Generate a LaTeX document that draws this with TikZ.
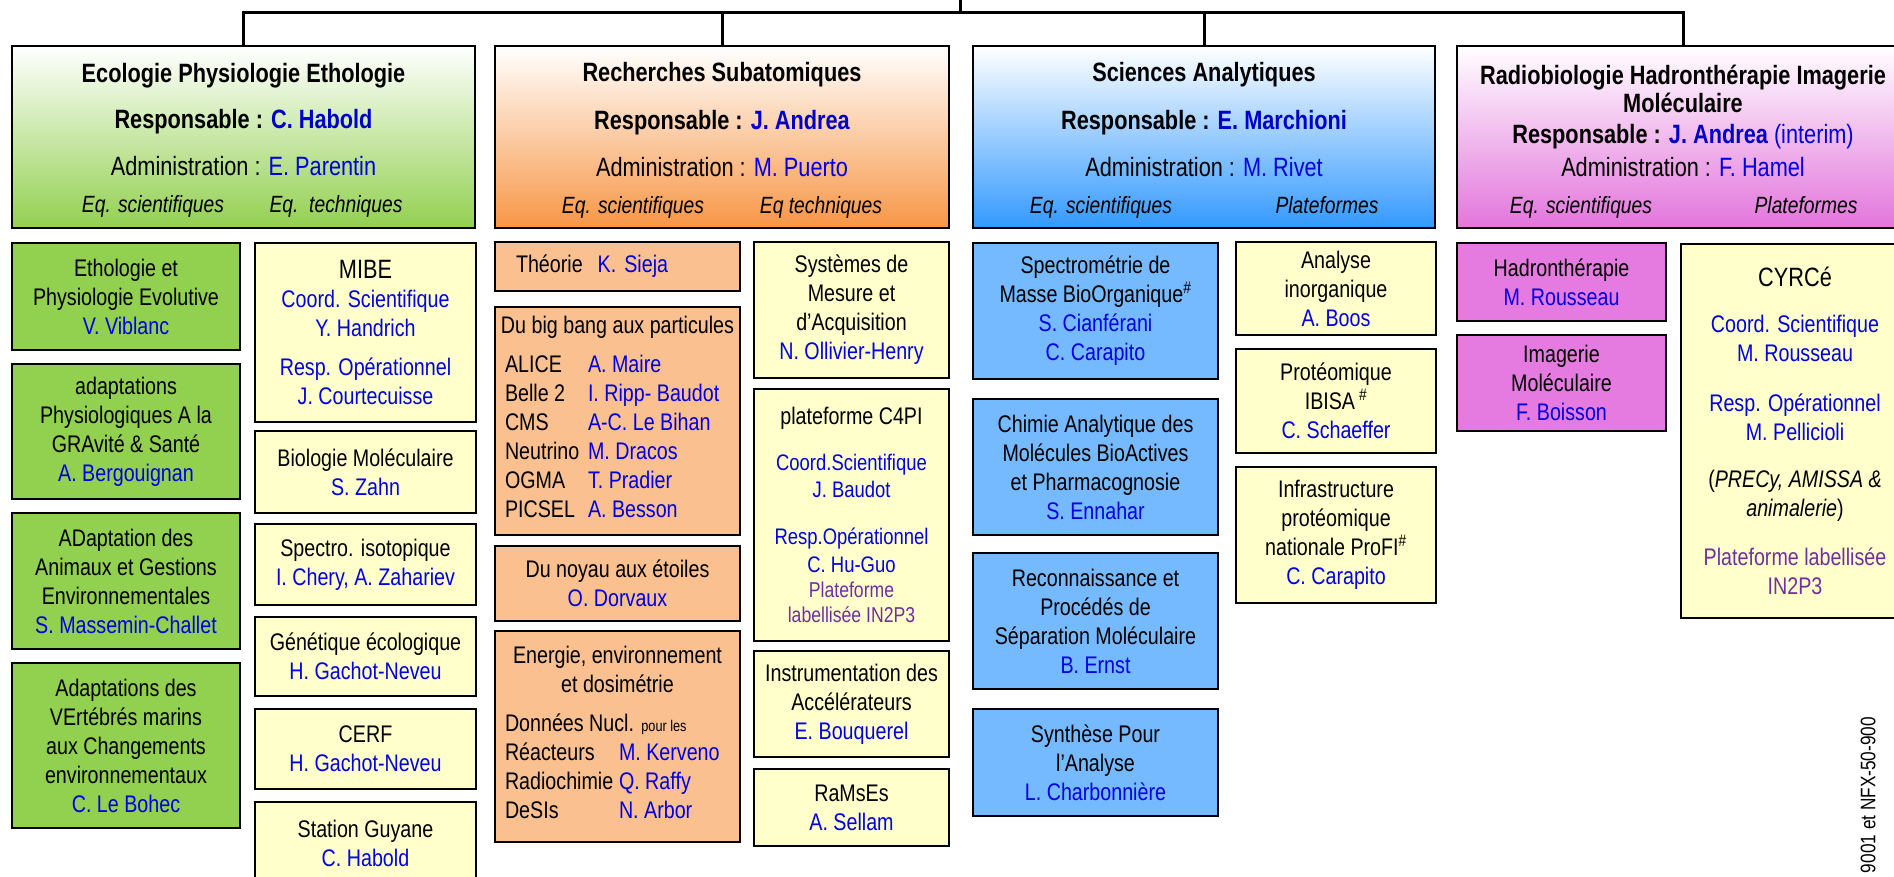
\documentclass[tikz,border=0pt]{standalone}
\usepackage{fontspec}
\setmainfont[FakeStretch=0.82]{Liberation Sans}
\usepackage{tikz}
\usetikzlibrary{positioning}

\definecolor{nm}{RGB}{0,0,225}
\definecolor{hnm}{RGB}{0,0,200}
\definecolor{lbl}{RGB}{112,48,160}
\definecolor{vert}{RGB}{146,208,80}
\definecolor{orhd}{RGB}{247,150,70}
\definecolor{orsub}{RGB}{250,192,143}
\definecolor{blhd}{RGB}{51,153,255}
\definecolor{blsub}{RGB}{117,185,255}
\definecolor{rshd}{RGB}{227,117,220}
\definecolor{rssub}{RGB}{229,123,224}
\definecolor{jaune}{RGB}{255,255,204}

\newcommand{\nm}[1]{\textcolor{nm}{#1}}

\begin{document}
\begin{tikzpicture}[x=1pt,y=-1pt,
hdr/.style={draw,line width=2.5pt,inner sep=0pt,outer sep=0pt,minimum height=182pt,top color=white},
htxt/.style={anchor=base,font=\fontsize{26.5}{30}\selectfont},
eq/.style={anchor=base,font=\fontsize{23.5}{28}\selectfont\itshape},
sub/.style={draw,line width=2.5pt,inner sep=0pt,outer sep=0pt,align=center,font=\fontsize{24}{29}\selectfont},
gsub/.style={sub,fill=vert,minimum width=228pt},
ysub/.style={sub,fill=jaune},
osub/.style={sub,fill=orsub,minimum width=245pt},
bsub/.style={sub,fill=blsub,minimum width=245pt},
psub/.style={sub,fill=rssub,minimum width=209pt},
conn/.style={line width=3pt}]
\clip (0,0) rectangle (1894,876);

% poles
\node[hdr,bottom color=vert,minimum width=463pt,anchor=north] (hEco) at (243.5,46) {};
\node[hdr,bottom color=orhd,minimum width=454pt,anchor=north] (hSub) at (722,46) {};
\node[hdr,bottom color=blhd,minimum width=462pt,anchor=north] (hAna) at (1204,46) {};
\node[hdr,bottom color=rshd,minimum width=452pt,anchor=north] (hRad) at (1683,46) {};

\coordinate (bus) at (960,12);
\coordinate (stem) at (960,-2);
\draw[conn] (stem) -- (bus);
\draw[conn] (hEco.north) |- (bus) -| (hRad.north);
\draw[conn] (hSub.north) -- (hSub.north |- bus);
\draw[conn] (hAna.north) -- (hAna.north |- bus);

\node[htxt] (hEcoT) at (243.5,82) {\bfseries Ecologie Physiologie Ethologie};
\node[htxt] (hEcoR) at (243.5,128) {\bfseries Responsable : \textcolor{hnm}{C. Habold}};
\node[htxt] (hEcoA) at (243.5,175) {Administration : \nm{E. Parentin}};
\node[eq] (hEcoS) at (153,212) {Eq. scientifiques};
\node[eq] (hEcoQ) at (336,212) {Eq.\ \ techniques};

\node[htxt] (hSubT) at (722,81) {\bfseries Recherches Subatomiques};
\node[htxt] (hSubR) at (722,129) {\bfseries Responsable : \textcolor{hnm}{J. Andrea}};
\node[htxt] (hSubA) at (722,176) {Administration : \nm{M. Puerto}};
\node[eq] (hSubS) at (633,213) {Eq. scientifiques};
\node[eq] (hSubQ) at (821,213) {Eq techniques};

\node[htxt] (hAnaT) at (1204,81) {\bfseries Sciences Analytiques};
\node[htxt] (hAnaR) at (1204,129) {\bfseries Responsable : \textcolor{hnm}{E. Marchioni}};
\node[htxt] (hAnaA) at (1204,176) {Administration : \nm{M. Rivet}};
\node[eq] (hAnaS) at (1101,213) {Eq. scientifiques};
\node[eq] (hAnaP) at (1327,213) {Plateformes};

\node[htxt] (hRadT) at (1683,84) {\bfseries Radiobiologie Hadronthérapie Imagerie};
\node[htxt] (hRadM) at (1683,112) {\bfseries Moléculaire};
\node[htxt] (hRadR) at (1683,143) {{\bfseries Responsable : \textcolor{hnm}{J. Andrea}} \nm{(interim)}};
\node[htxt] (hRadA) at (1683,176) {Administration : \nm{F. Hamel}};
\node[eq] (hRadS) at (1581,213) {Eq. scientifiques};
\node[eq] (hRadP) at (1806,213) {Plateformes};

% equipes ecologie
\node[gsub,minimum height=107pt,anchor=north] (ethol) at (126,243)
  {Ethologie et\\Physiologie Evolutive\\\nm{V. Viblanc}};
\node[gsub,minimum height=135pt,below=14pt of ethol] (agrav)
  {adaptations\\Physiologiques A la\\GRAvité \& Santé\\\nm{A. Bergouignan}};
\node[gsub,minimum height=136pt,below=14pt of agrav] (adage)
  {ADaptation des\\Animaux et Gestions\\Environnementales\\\nm{S. Massemin-Challet}};
\node[gsub,minimum height=165pt,below=14pt of adage] (avecc)
  {Adaptations des\\VErtébrés marins\\aux Changements\\environnementaux\\\nm{C. Le Bohec}};

\node[ysub,minimum width=221pt,minimum height=179pt,anchor=north] (mibe) at (365.5,243)
  {{\fontsize{26.5}{29}\selectfont MIBE}\\\nm{Coord. Scientifique}\\\nm{Y. Handrich}\\[10pt]\nm{Resp. Opérationnel}\\\nm{J. Courtecuisse}};
\node[ysub,minimum width=221pt,minimum height=82pt,below=9pt of mibe] (biomol)
  {Biologie Moléculaire\\\nm{S. Zahn}};
\node[ysub,minimum width=221pt,minimum height=81pt,below=11pt of biomol] (spectiso)
  {Spectro. isotopique\\\nm{I. Chery, A. Zahariev}};
\node[ysub,minimum width=221pt,minimum height=79pt,below=12pt of spectiso] (genet)
  {Génétique écologique\\\nm{H. Gachot-Neveu}};
\node[ysub,minimum width=221pt,minimum height=80pt,below=13pt of genet] (cerf)
  {CERF\\\nm{H. Gachot-Neveu}};
\node[ysub,minimum width=221pt,minimum height=83pt,below=13pt of cerf] (guyane)
  {Station Guyane\\\nm{C. Habold}};

% equipes subatomiques
\node[osub,minimum height=49pt,anchor=north,text width=225pt,align=left] (theo) at (617.5,242)
  {\hspace{11pt}Théorie\hspace{15pt}\nm{K. Sieja}};
\node[osub,minimum height=228pt,below=16pt of theo] (bigbang)
  {Du big bang aux particules\\[10pt]
   \begin{tabular}[t]{@{}p{83pt}@{}p{142pt}@{}}
   ALICE & \nm{A. Maire}\\
   Belle 2 & \nm{I. Ripp- Baudot}\\
   CMS & \nm{A-C. Le Bihan}\\
   Neutrino & \nm{M. Dracos}\\
   OGMA & \nm{T. Pradier}\\
   PICSEL & \nm{A. Besson}
   \end{tabular}};
\node[osub,minimum height=75pt,below=11pt of bigbang] (noyau)
  {Du noyau aux étoiles\\\nm{O. Dorvaux}};
\node[osub,minimum height=211pt,below=10pt of noyau] (energie)
  {Energie, environnement\\et dosimétrie\\[10pt]
   \begin{tabular}[t]{@{}p{114pt}@{}p{111pt}@{}}
   \multicolumn{2}{@{}l@{}}{Données Nucl. {\fontsize{15.5}{18}\selectfont pour les}}\\
   Réacteurs & \nm{M. Kerveno}\\
   Radiochimie & \nm{Q. Raffy}\\
   DeSIs & \nm{N. Arbor}
   \end{tabular}};

\node[ysub,minimum width=195pt,minimum height=136pt,anchor=north] (sysmes) at (851.5,242)
  {Systèmes de\\Mesure et\\d’Acquisition\\\nm{N. Ollivier-Henry}};
\node[ysub,minimum width=195pt,minimum height=252pt,below=11pt of sysmes] (cfpi)
  {plateforme C4PI\\[17pt]
   {\fontsize{22.5}{27}\selectfont\nm{Coord.Scientifique}}\\[-2pt]
   {\fontsize{22.5}{27}\selectfont\nm{J. Baudot}}\\[18pt]
   {\fontsize{22.5}{27}\selectfont\nm{Resp.Opérationnel}}\\[-1pt]
   {\fontsize{22.5}{27}\selectfont\nm{C. Hu-Guo}}\\[-4pt]
   {\fontsize{21.5}{25}\selectfont\textcolor{lbl}{Plateforme}}\\[-4pt]
   {\fontsize{21.5}{25}\selectfont\textcolor{lbl}{labellisée IN2P3}}};
\node[ysub,minimum width=195pt,minimum height=106pt,below=10pt of cfpi] (instacc)
  {Instrumentation des\\Accélérateurs\\\nm{E. Bouquerel}};
\node[ysub,minimum width=195pt,minimum height=77pt,below=12pt of instacc] (ramses)
  {RaMsEs\\\nm{A. Sellam}};

% equipes sciences analytiques
\node[bsub,minimum height=136pt,anchor=north] (smbo) at (1095.5,243)
  {Spectrométrie de\\Masse BioOrganique\textsuperscript{\#}\\\nm{S. Cianférani}\\\nm{C. Carapito}};
\node[bsub,minimum height=136pt,below=20pt of smbo] (chimie)
  {Chimie Analytique des\\Molécules BioActives\\et Pharmacognosie\\\nm{S. Ennahar}};
\node[bsub,minimum height=136pt,below=18pt of chimie] (recon)
  {Reconnaissance et\\Procédés de\\Séparation Moléculaire\\\nm{B. Ernst}};
\node[bsub,minimum height=107pt,below=20pt of recon] (synth)
  {Synthèse Pour\\l'Analyse\\\nm{L. Charbonnière}};

\node[ysub,minimum width=200pt,minimum height=93pt,anchor=north] (inorg) at (1336,242)
  {Analyse\\inorganique\\\nm{A. Boos}};
\node[ysub,minimum width=200pt,minimum height=104pt,below=14pt of inorg] (ibisa)
  {Protéomique\\IBISA\,\textsuperscript{\#}\\\nm{C. Schaeffer}};
\node[ysub,minimum width=200pt,minimum height=136pt,below=14pt of ibisa] (profi)
  {Infrastructure\\protéomique\\nationale ProFI\textsuperscript{\#}\\\nm{C. Carapito}};

% equipes radiobiologie
\node[psub,minimum height=78pt,anchor=north] (hadron) at (1561.5,243)
  {Hadronthérapie\\\nm{M. Rousseau}};
\node[psub,minimum height=96pt,below=14pt of hadron] (imamol)
  {Imagerie\\Moléculaire\\\nm{F. Boisson}};

\node[ysub,minimum width=228pt,minimum height=374pt,anchor=north] (cyrce) at (1795,244)
  {{\fontsize{26.5}{29}\selectfont CYRCé}\\[17pt]\nm{Coord. Scientifique}\\\nm{M. Rousseau}\\[21pt]
   \nm{Resp. Opérationnel}\\\nm{M. Pellicioli}\\[18pt]
   (\textit{PRECy, AMISSA \&}\\\textit{animalerie})\\[20pt]
   \textcolor{lbl}{Plateforme labellisée}\\\textcolor{lbl}{IN2P3}};

\node[rotate=90,font=\fontsize{21}{25}\selectfont] (iso) at (1868,795) {9001 et NFX-50-900};
\end{tikzpicture}
\end{document}
